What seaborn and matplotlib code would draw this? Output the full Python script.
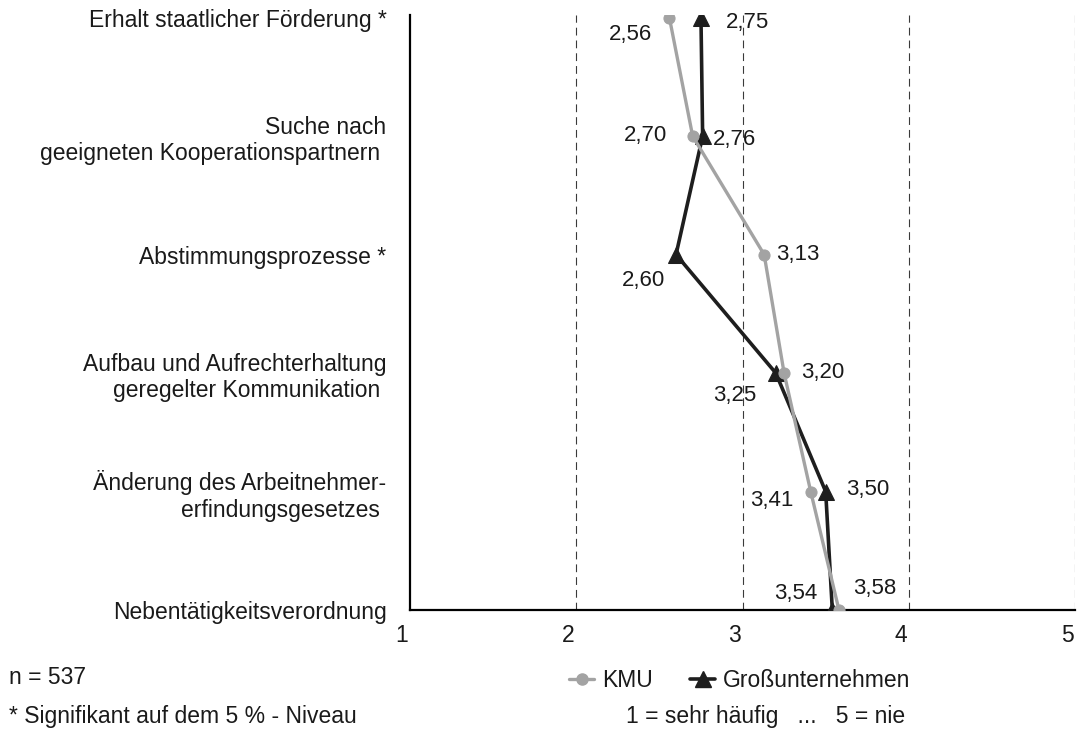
import matplotlib
matplotlib.use("Agg")
import matplotlib.pyplot as plt
import matplotlib.transforms as mtransforms
from matplotlib.lines import Line2D
import seaborn as sns
import pandas as pd

# --- data -------------------------------------------------------------
categories = [
    "Erhalt staatlicher Förderung *",
    "Suche nach\ngeeigneten Kooperationspartnern ",
    "Abstimmungsprozesse *",
    "Aufbau und Aufrechterhaltung\ngeregelter Kommunikation ",
    "Änderung des Arbeitnehmer-\nerfindungsgesetzes ",
    "Nebentätigkeitsverordnung",
]
kmu = [2.56, 2.70, 3.13, 3.25, 3.41, 3.58]
gross = [2.75, 2.76, 2.60, 3.20, 3.50, 3.54]
x_ticks = [1, 2, 3, 4, 5]
series_names = ["KMU", "Großunternehmen"]

# value-label offsets (pixels, right / up) for each point
kmu_offsets = [(-39, -17), (-47, 1), (34, 0), (-49, -22), (-39, -9), (36, 22)]
gross_offsets = [(47, -5), (32, -3), (-33, -26), (47, 1), (42, 2), (-37, 17)]

# --- styling ----------------------------------------------------------
sns.set_theme(style="white")
plt.rcParams["font.family"] = ["Liberation Sans", "DejaVu Sans"]
TEXT = "#1a1a1a"
GREY = "#a3a3a3"
DARK = "#1e1e1e"
FS = 16.5
FS_VAL = 16

df = pd.DataFrame({"pos": range(len(categories)),
                   series_names[0]: kmu,
                   series_names[1]: gross})

fig = plt.figure(figsize=(10.77, 7.33), dpi=100)
ax = fig.add_axes([0.3807, 0.1678, 0.6175, 0.8122])

# dashed reference lines
for xv in x_ticks[1:]:
    ax.axvline(xv, color="#3a3a3a", lw=0.8, ls=(0, (7, 4.5)), zorder=1)

sns.lineplot(data=df, x=series_names[1], y="pos", orient="y", estimator=None,
             color=DARK, lw=2.6, marker="^", markersize=11,
             markeredgecolor=DARK, ax=ax, zorder=3)
sns.lineplot(data=df, x=series_names[0], y="pos", orient="y", estimator=None,
             color=GREY, lw=2.4, marker="o", markersize=8,
             markeredgecolor=GREY, ax=ax, zorder=4)

def fmt(v):
    return f"{v:.2f}".replace(".", ",")

for i, (v, off) in enumerate(zip(kmu, kmu_offsets)):
    ax.annotate(fmt(v), (v, i), xytext=off, textcoords="offset pixels",
                ha="center", va="center", fontsize=FS_VAL, color=TEXT,
                zorder=5, annotation_clip=False)
for i, (v, off) in enumerate(zip(gross, gross_offsets)):
    ax.annotate(fmt(v), (v, i), xytext=off, textcoords="offset pixels",
                ha="center", va="center", fontsize=FS_VAL, color=TEXT,
                zorder=5, annotation_clip=False)

# axes
ax.set_xlim(1, 5)
ax.set_ylim(len(categories) - 1, -0.025)
ax.set_xticks(x_ticks)
ax.set_xticklabels([str(t) for t in x_ticks], fontsize=FS, color=TEXT)
ax.set_yticks(range(len(categories)))
ax.set_yticklabels(categories, fontsize=FS, color=TEXT,
                   ha="right", multialignment="right")
ax.tick_params(axis="x", length=0, pad=10)
ax.tick_params(axis="y", length=0, pad=17)
shift = mtransforms.ScaledTranslation(-8 / 100, 0, fig.dpi_scale_trans)
for lab in ax.get_xticklabels():
    lab.set_transform(lab.get_transform() + shift)
ax.set_xlabel("")
ax.set_ylabel("")
for side in ("top", "right"):
    ax.spines[side].set_visible(False)
for side in ("left", "bottom"):
    ax.spines[side].set_color("black")
    ax.spines[side].set_linewidth(1.6)

# legend
handles = [
    Line2D([], [], color=GREY, lw=2.4, marker="o", markersize=8),
    Line2D([], [], color=DARK, lw=2.6, marker="^", markersize=11),
]
fig.legend(handles, series_names, loc="center", bbox_to_anchor=(0.687, 0.072),
           ncol=2, frameon=False, fontsize=FS, handlelength=1.1,
           handletextpad=0.35, columnspacing=1.6, labelcolor=TEXT)

# footnotes
fig.text(0.711, 0.022, "1 = sehr häufig   ...   5 = nie", ha="center",
         va="center", fontsize=FS, color=TEXT)
fig.text(0.008, 0.076, "n = 537", ha="left", va="center",
         fontsize=FS, color=TEXT)
fig.text(0.008, 0.022, "* Signifikant auf dem 5 % - Niveau", ha="left",
         va="center", fontsize=FS, color=TEXT)

fig.savefig("out.png", dpi=100)
